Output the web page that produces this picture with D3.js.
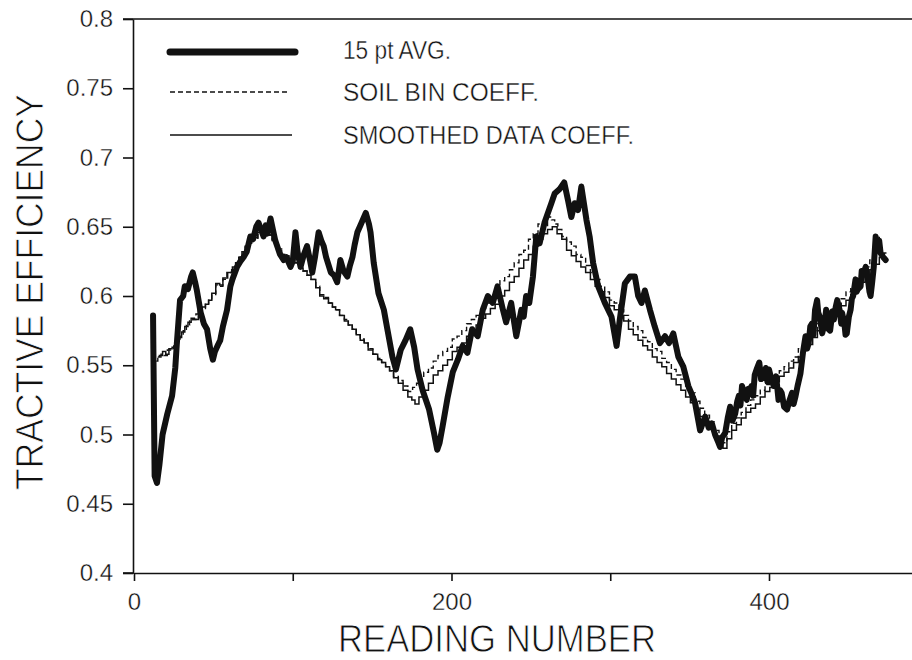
<!DOCTYPE html>
<html>
<head>
<meta charset="utf-8">
<script src="https://cdn.jsdelivr.net/npm/d3@7/dist/d3.min.js"></script>
<style>
  html, body { margin: 0; padding: 0; background: #fff; }
  svg { display: block; }
</style>
</head>
<body>
<svg id="chart" width="912" height="660"></svg>
<script>
// Tractive efficiency against reading number: 15 point running average and two fitted-coefficient predictions

const xTicks = [0, 100, 200, 300, 400, 500];
const xTickLabels = ["0", "", "200", "", "400", ""];
const yTicks = [0.4, 0.45, 0.5, 0.55, 0.6, 0.65, 0.7, 0.75, 0.8];
const yTickLabels = ["0.4", "0.45", "0.5", "0.55", "0.6", "0.65", "0.7", "0.75", "0.8"];

const seriesNames = ["15 pt AVG.", "SOIL BIN COEFF.", "SMOOTHED DATA COEFF."];

// 15 point average of measured tractive efficiency: [reading, efficiency]
const avgPoints = [
  [12, 0.586], [13, 0.470], [14.5, 0.465], [16, 0.478], [18, 0.500], [21, 0.515], [24, 0.528], [26, 0.548],
  [27, 0.566], [29, 0.597], [31, 0.600], [32, 0.607], [34, 0.605], [36, 0.614], [37, 0.617], [38.5, 0.610],
  [39.6, 0.604], [42, 0.588], [44, 0.580], [46, 0.576], [48, 0.562], [49.7, 0.554], [51, 0.560], [53, 0.565],
  [54.3, 0.568], [56, 0.578], [58.6, 0.590], [60.7, 0.607], [62, 0.612], [64.9, 0.621], [67, 0.625], [69, 0.628],
  [71, 0.632], [73.3, 0.643], [75, 0.641], [77, 0.650], [78.4, 0.653], [80, 0.648], [81.6, 0.643], [83, 0.651],
  [84, 0.645], [86, 0.656], [87.5, 0.648], [89, 0.640], [90.2, 0.636], [92, 0.630], [94.3, 0.626], [96, 0.628],
  [98.6, 0.621], [100, 0.625], [101.7, 0.646], [103, 0.632], [104.9, 0.621], [107, 0.630], [109, 0.636], [111, 0.625],
  [112.3, 0.617], [114, 0.628], [116.3, 0.646], [118, 0.640], [119.5, 0.636], [121, 0.628], [124, 0.617], [126, 0.615],
  [128, 0.610], [129, 0.618], [130, 0.626], [132, 0.618], [134.4, 0.614], [136, 0.622], [137.6, 0.628], [139, 0.637],
  [140.7, 0.646], [143, 0.652], [146, 0.660], [148, 0.652], [149, 0.646], [151, 0.624], [154, 0.602], [157.4, 0.590],
  [159.6, 0.576], [162.8, 0.556], [165, 0.547], [168, 0.561], [171, 0.568], [174, 0.576], [176.5, 0.563], [178.6, 0.547],
  [181.8, 0.532], [185.9, 0.518], [189, 0.501], [191, 0.489], [192.5, 0.494], [194.4, 0.506], [197.6, 0.527], [200.8, 0.545],
  [204, 0.554], [207, 0.564], [210, 0.559], [213, 0.576], [216.5, 0.571], [219.7, 0.590], [222.9, 0.600], [226, 0.595],
  [229, 0.607], [232.4, 0.590], [234.4, 0.581], [237.6, 0.595], [240.8, 0.571], [244, 0.590], [245.5, 0.585], [247, 0.600],
  [249, 0.595], [251.3, 0.614], [253.4, 0.643], [255.5, 0.638], [258.6, 0.653], [262.9, 0.667], [265, 0.674], [268, 0.677],
  [271, 0.682], [273.4, 0.669], [275.5, 0.657], [277.6, 0.667], [279.7, 0.662], [281.8, 0.679], [285, 0.655], [287, 0.643],
  [289.2, 0.624], [292.4, 0.607], [296.6, 0.595], [300.8, 0.585], [304, 0.564], [306, 0.583], [309.2, 0.609], [312.4, 0.614],
  [315.5, 0.614], [317.6, 0.600], [319.7, 0.595], [321.8, 0.604], [325, 0.590], [328, 0.578], [331.3, 0.566], [334.5, 0.571],
  [337, 0.566], [339.7, 0.573], [342.9, 0.556], [346, 0.549], [349.2, 0.535], [351, 0.530], [353.4, 0.523], [356.6, 0.503],
  [359.8, 0.513], [362, 0.505], [364, 0.508], [366, 0.500], [368.2, 0.494], [369.2, 0.491], [370.5, 0.498], [372.4, 0.501],
  [374, 0.512], [375.5, 0.520], [377, 0.510], [378.7, 0.515], [380, 0.524], [381, 0.528], [382, 0.521], [383, 0.535],
  [384.5, 0.530], [386, 0.525], [387, 0.533], [388, 0.532], [389, 0.535], [390, 0.528], [391, 0.543], [392.5, 0.548],
  [393.9, 0.552], [395, 0.540], [396.6, 0.542], [398, 0.548], [399, 0.538], [400, 0.547], [401.5, 0.540], [403, 0.535],
  [404.5, 0.542], [406, 0.525], [407, 0.532], [408, 0.530], [409.5, 0.520], [411.4, 0.518], [413, 0.525], [414.5, 0.530],
  [415.5, 0.522], [416.6, 0.527], [418, 0.535], [419.8, 0.544], [421.5, 0.560], [423, 0.571], [424, 0.562], [425, 0.566],
  [426, 0.578], [427, 0.580], [428, 0.572], [429, 0.590], [430.3, 0.597], [431, 0.588], [432, 0.585], [433.5, 0.573],
  [435, 0.580], [436, 0.590], [436.6, 0.588], [437.5, 0.576], [438.5, 0.575], [440, 0.589], [440.9, 0.583], [442, 0.592],
  [443, 0.597], [444.5, 0.590], [445.5, 0.580], [446, 0.588], [447.5, 0.580], [448.2, 0.572], [449, 0.573], [450.3, 0.585],
  [451.4, 0.590], [452.2, 0.598], [453, 0.600], [454.5, 0.612], [455.2, 0.603], [456, 0.605], [457.7, 0.607], [458.4, 0.618],
  [459, 0.615], [460.9, 0.621], [462.5, 0.610], [463.3, 0.603], [464, 0.600], [465, 0.610], [466, 0.621], [467.2, 0.643],
  [468.5, 0.635], [469.4, 0.640], [470.3, 0.631], [472, 0.628], [473.5, 0.626]
];

// Prediction using soil bin coefficients: [reading, efficiency]
const soilPoints = [
  [14, 0.553], [16, 0.556], [18, 0.558], [20, 0.557], [22, 0.561], [24, 0.562], [26, 0.564], [28, 0.568],
  [30, 0.571], [32, 0.575], [34, 0.579], [36, 0.582], [38, 0.583], [40, 0.587], [42, 0.590], [44, 0.591],
  [46, 0.594], [48, 0.597], [50, 0.601], [53, 0.608], [55, 0.607], [57, 0.612], [60, 0.617], [63, 0.620],
  [65, 0.623], [67, 0.628], [69, 0.631], [71, 0.635], [73, 0.638], [75, 0.642], [77, 0.641], [79, 0.645],
  [82, 0.646], [84, 0.648], [86, 0.644], [88, 0.641], [90, 0.637], [92, 0.634], [94, 0.630], [96, 0.629],
  [99, 0.626], [103, 0.624], [105, 0.620], [108, 0.618], [110, 0.615], [113, 0.612], [116, 0.607], [118, 0.601],
  [121, 0.599], [124, 0.595], [126, 0.592], [128, 0.590], [131, 0.586], [134, 0.583], [136, 0.579], [139, 0.576],
  [141, 0.572], [144, 0.569], [146, 0.566], [149, 0.562], [152, 0.558], [155, 0.555], [157, 0.552], [160, 0.549],
  [162, 0.546], [165, 0.542], [168, 0.539], [171, 0.535], [174, 0.531], [177, 0.534], [179, 0.537], [181, 0.540],
  [184, 0.545], [187, 0.548], [190, 0.553], [193, 0.557], [196, 0.560], [199, 0.563], [202, 0.569], [205, 0.571],
  [208, 0.575], [211, 0.580], [214, 0.583], [217, 0.586], [220, 0.591], [223, 0.595], [226, 0.597], [229, 0.603],
  [232, 0.611], [235, 0.614], [238, 0.619], [241, 0.624], [244, 0.630], [247, 0.633], [250, 0.641], [253, 0.645],
  [256, 0.652], [259, 0.650], [262, 0.657], [264, 0.655], [266, 0.652], [268, 0.648], [271, 0.643], [274, 0.639],
  [277, 0.636], [280, 0.630], [283, 0.628], [286, 0.622], [289, 0.617], [292, 0.612], [295, 0.607], [298, 0.603],
  [301, 0.597], [304, 0.595], [307, 0.590], [310, 0.586], [313, 0.582], [316, 0.578], [319, 0.575], [322, 0.570],
  [325, 0.567], [328, 0.562], [331, 0.560], [334, 0.555], [337, 0.552], [340, 0.547], [343, 0.543], [346, 0.540],
  [349, 0.533], [352, 0.530], [355, 0.524], [358, 0.519], [361, 0.514], [364, 0.509], [367, 0.503], [370, 0.499],
  [372, 0.494], [375, 0.502], [378, 0.508], [381, 0.512], [384, 0.516], [387, 0.521], [390, 0.525], [393, 0.528],
  [396, 0.532], [399, 0.536], [402, 0.539], [405, 0.543], [408, 0.546], [411, 0.549], [414, 0.553], [417, 0.556],
  [420, 0.562], [423, 0.567], [426, 0.571], [429, 0.575], [432, 0.580], [435, 0.583], [438, 0.587], [441, 0.591],
  [444, 0.594], [447, 0.598], [450, 0.603], [453, 0.607], [456, 0.611], [459, 0.616], [462, 0.621], [465, 0.626],
  [468, 0.632], [471, 0.643]
];

// Prediction using coefficients fitted to the smoothed data: [reading, efficiency]
const smoothPoints = [
  [15, 0.556], [17, 0.557], [19, 0.560], [21, 0.558], [23, 0.562], [25, 0.563], [27, 0.566], [29, 0.570],
  [31, 0.574], [33, 0.578], [35, 0.581], [37, 0.584], [39, 0.583], [42, 0.590], [44, 0.592], [46, 0.594],
  [48, 0.597], [50, 0.602], [53, 0.609], [55, 0.608], [57, 0.613], [61, 0.617], [63, 0.621], [65, 0.624],
  [67, 0.628], [69, 0.632], [71, 0.636], [73, 0.638], [75, 0.643], [77, 0.642], [79, 0.646], [82, 0.646],
  [84, 0.648], [86, 0.644], [88, 0.640], [90, 0.637], [92, 0.633], [94, 0.630], [96, 0.629], [99, 0.626],
  [103, 0.624], [105, 0.620], [108, 0.618], [110, 0.615], [113, 0.612], [116, 0.606], [118, 0.600], [121, 0.598],
  [124, 0.595], [126, 0.592], [128, 0.590], [131, 0.586], [134, 0.582], [136, 0.579], [139, 0.576], [141, 0.572],
  [144, 0.568], [146, 0.566], [149, 0.561], [152, 0.558], [155, 0.554], [157, 0.552], [160, 0.549], [162, 0.546],
  [165, 0.541], [168, 0.537], [171, 0.532], [174, 0.527], [176, 0.525], [178, 0.522], [181, 0.527], [184, 0.532],
  [187, 0.537], [190, 0.543], [193, 0.546], [196, 0.550], [199, 0.554], [202, 0.560], [205, 0.563], [208, 0.566],
  [211, 0.571], [214, 0.575], [217, 0.579], [220, 0.584], [223, 0.587], [226, 0.591], [229, 0.594], [232, 0.600],
  [235, 0.604], [238, 0.610], [241, 0.614], [244, 0.620], [247, 0.626], [250, 0.630], [253, 0.636], [256, 0.641],
  [259, 0.645], [262, 0.648], [265, 0.650], [268, 0.645], [271, 0.641], [274, 0.633], [277, 0.629], [280, 0.625],
  [283, 0.621], [286, 0.617], [289, 0.612], [292, 0.607], [295, 0.603], [298, 0.599], [301, 0.593], [304, 0.590],
  [307, 0.586], [310, 0.582], [313, 0.576], [316, 0.572], [319, 0.568], [322, 0.564], [325, 0.561], [328, 0.556],
  [331, 0.552], [334, 0.549], [337, 0.544], [340, 0.540], [343, 0.536], [346, 0.532], [349, 0.527], [352, 0.523],
  [355, 0.518], [358, 0.513], [361, 0.509], [364, 0.504], [367, 0.499], [370, 0.494], [372, 0.490], [375, 0.497],
  [378, 0.503], [381, 0.507], [384, 0.512], [387, 0.516], [390, 0.519], [393, 0.522], [396, 0.527], [399, 0.531],
  [402, 0.534], [405, 0.538], [408, 0.542], [411, 0.545], [414, 0.548], [417, 0.552], [420, 0.556], [423, 0.561],
  [426, 0.565], [429, 0.570], [432, 0.575], [435, 0.578], [438, 0.581], [441, 0.585], [444, 0.589], [447, 0.593],
  [450, 0.597], [453, 0.601], [456, 0.605], [459, 0.610], [462, 0.614], [465, 0.619], [468, 0.623], [471, 0.628],
  [474, 0.631]
];

const svg = d3.select("#chart");

const x = d3.scaleLinear().domain([0, 500]).range([134, 927.75]);
const y = d3.scaleLinear().domain([0.4, 0.8]).range([573, 19]);

const ink = "#111";
const font = '"Liberation Sans Narrow", "Liberation Sans", Arial, sans-serif';

// thin, plotter-like lettering: a white outline over the glyph trims the stems
function lettering(sel, size, trim) {
  sel.attr("font-family", font).attr("font-size", size).attr("fill", ink)
    .attr("stroke", "#fff").attr("stroke-width", trim);
}

// frame: top edge, left axis and bottom axis
svg.append("line").attr("x1", 123).attr("x2", 912).attr("y1", y(0.8)).attr("y2", y(0.8))
  .attr("stroke", ink).attr("stroke-width", 1.6);

const yAxis = svg.append("g")
  .attr("transform", `translate(${x(0) - 1},0)`)
  .call(d3.axisLeft(y).tickValues(yTicks).tickFormat((d, i) => yTickLabels[i]).tickSize(10).tickSizeOuter(0).tickPadding(10));
yAxis.select(".domain").attr("stroke", ink).attr("stroke-width", 1.6);
yAxis.selectAll(".tick line").attr("stroke", ink).attr("stroke-width", 1.6);
yAxis.selectAll(".tick text").call(lettering, 24, 0.35);

const xAxis = svg.append("g")
  .attr("transform", `translate(0,${y(0.4)})`)
  .call(d3.axisBottom(x).tickValues(xTicks).tickFormat((d, i) => xTickLabels[i]).tickSize(8).tickSizeOuter(0).tickPadding(12));
xAxis.select(".domain").attr("stroke", ink).attr("stroke-width", 1.6);
xAxis.selectAll(".tick line").attr("stroke", ink).attr("stroke-width", 1.6);
xAxis.selectAll(".tick text").call(lettering, 24, 0.35);
svg.append("line").attr("x1", 123).attr("x2", x(0)).attr("y1", y(0.4)).attr("y2", y(0.4))
  .attr("stroke", ink).attr("stroke-width", 1.6);

// axis titles
svg.append("text")
  .attr("x", 497).attr("y", 652)
  .attr("text-anchor", "middle")
  .attr("textLength", 318).attr("lengthAdjust", "spacingAndGlyphs")
  .call(lettering, 38, 0.9)
  .text("READING NUMBER");

svg.append("text")
  .attr("transform", "translate(43,292) rotate(-90)")
  .attr("text-anchor", "middle")
  .attr("textLength", 396).attr("lengthAdjust", "spacingAndGlyphs")
  .call(lettering, 38, 0.9)
  .text("TRACTIVE EFFICIENCY");

// data lines
const line = d3.line().x(d => x(d[0])).y(d => y(d[1]));
const stepLine = d3.line().x(d => x(d[0])).y(d => y(d[1])).curve(d3.curveStep);

svg.append("path").datum(smoothPoints)
  .attr("d", stepLine).attr("fill", "none").attr("stroke", ink).attr("stroke-width", 1.5);

svg.append("path").datum(soilPoints)
  .attr("d", stepLine).attr("fill", "none").attr("stroke", ink).attr("stroke-width", 1.4)
  .attr("stroke-dasharray", "5,3");

svg.append("path").datum(avgPoints)
  .attr("d", line).attr("fill", "none").attr("stroke", ink).attr("stroke-width", 6)
  .attr("stroke-linejoin", "round").attr("stroke-linecap", "round");

// legend
const legendRows = [
  { y: 52, width: 7, dash: null, x2: 295, ty: 59, len: 108 },
  { y: 92, width: 1.5, dash: "5,3", x2: 289, ty: 101, len: 196 },
  { y: 135, width: 1.6, dash: null, x2: 292, ty: 144, len: 291 }
];
legendRows.forEach((r, i) => {
  const l = svg.append("line").attr("x1", 170).attr("x2", r.x2).attr("y1", r.y).attr("y2", r.y)
    .attr("stroke", ink).attr("stroke-width", r.width).attr("stroke-linecap", i === 0 ? "round" : "butt");
  if (r.dash) l.attr("stroke-dasharray", r.dash);
  svg.append("text").attr("x", 343).attr("y", r.ty)
    .attr("textLength", r.len).attr("lengthAdjust", "spacingAndGlyphs")
    .call(lettering, 25, 0.4)
    .text(seriesNames[i]);
});
</script>
</body>
</html>
